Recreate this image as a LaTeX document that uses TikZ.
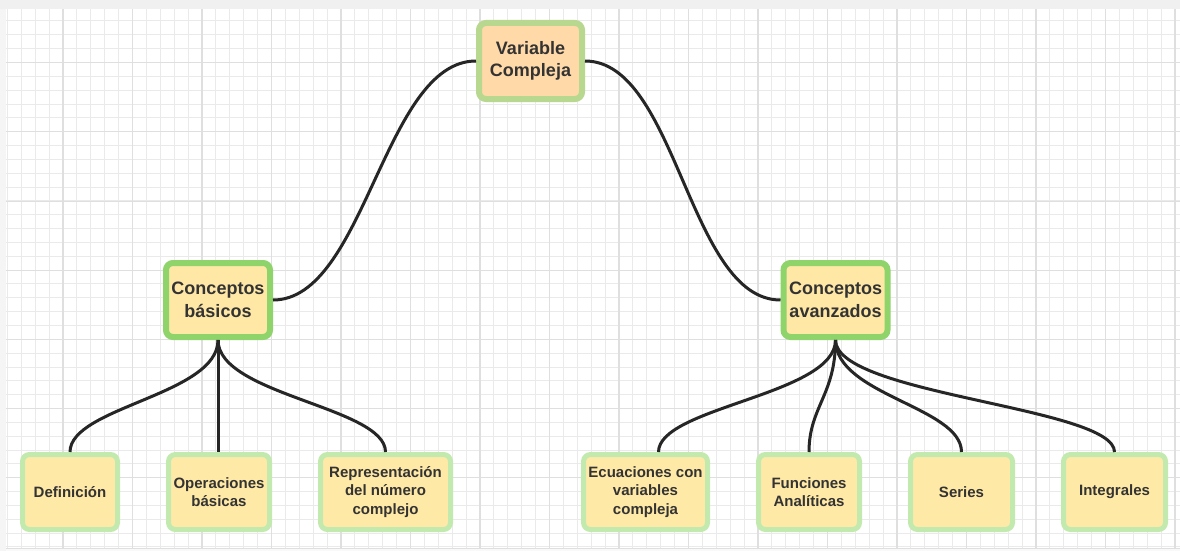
\documentclass[tikz,border=0pt]{standalone}
\usepackage{fontspec}
\setmainfont{Liberation Sans}
\usepackage{xcolor}
\usepackage{tikz}
\usetikzlibrary{positioning}

\definecolor{rootfill}{HTML}{FFD9A8}
\definecolor{rootline}{HTML}{B8D78F}
\definecolor{branchfill}{HTML}{FFE8A6}
\definecolor{branchline}{HTML}{8FD36B}
\definecolor{leaffill}{HTML}{FFE9A6}
\definecolor{leafline}{HTML}{C3EAAE}
\definecolor{ink}{HTML}{333333}
\definecolor{wire}{HTML}{262626}
\definecolor{gridminor}{HTML}{EAEAEA}
\definecolor{gridmajor}{HTML}{DFDFDF}

\begin{document}
\begin{tikzpicture}[
    x=1pt, y=-1pt,
    root/.style={rectangle, draw=rootline, fill=rootfill, line width=6pt, rounded corners=7pt, text=ink, align=center, inner sep=2pt, minimum width=103pt, minimum height=76pt, font=\bfseries\fontsize{18}{22.5}\selectfont},
    branch/.style={rectangle, draw=branchline, fill=branchfill, line width=6pt, rounded corners=7pt, text=ink, align=center, inner sep=2pt, minimum width=104pt, minimum height=74pt, font=\bfseries\fontsize{18}{23}\selectfont},
    leaf/.style={rectangle, draw=leafline, fill=leaffill, line width=5pt, rounded corners=7pt, text=ink, align=center, inner sep=2pt, minimum width=#1, minimum height=75pt, font=\bfseries\fontsize{15}{18.5}\selectfont},
    link/.style={line width=3pt, draw=wire}
]
    \useasboundingbox (0,0) rectangle (1180,551);
    % background grid
    \fill[white] (0,0) rectangle (1180,551);
    \foreach \i in {0,...,84} {
        \pgfmathsetmacro\gx{7.4+\i*13.9}
        \draw[gridminor, line width=1pt] (\gx,9) -- (\gx,548);
    }
    \foreach \i in {0,...,38} {
        \pgfmathsetmacro\gy{21+\i*13.84}
        \draw[gridminor, line width=1pt] (6,\gy) -- (1180,\gy);
    }
    \foreach \i in {0,...,16} {
        \pgfmathsetmacro\gx{63+\i*69.5}
        \draw[gridmajor, line width=1.1pt] (\gx,9) -- (\gx,548);
    }
    \foreach \i in {0,...,6} {
        \pgfmathsetmacro\gy{62.7+\i*69.2}
        \draw[gridmajor, line width=1.1pt] (6,\gy) -- (1180,\gy);
    }
    \fill[gray!12] (0,0) rectangle (1180,9);
    \fill[gray!8] (0,9) rectangle (6,551);
    \draw[gridmajor, line width=1pt] (6,548) -- (1180,548);
    \fill[gray!5] (6,549) rectangle (1180,551);

    % nodes
    \node (vc) [root] at (530.5,61) {Variable\\Compleja};
    \node (basicos) [branch] at (218,300) {Conceptos\\básicos};
    \node (avanzados) [branch] at (835.5,300) {Conceptos\\avanzados};

    \node (def) [leaf=95pt] at (70,492) {Definición};
    \node (oper) [leaf=101pt, right=46pt of def] {Operaciones\\básicas};
    \node (repr) [leaf=130pt, right=46pt of oper] {Representación\\del número\\complejo};

    \node (ecua) [leaf=124pt] at (645.5,492) {Ecuaciones con\\variables\\compleja};
    \node (func) [leaf=101pt, right=46pt of ecua] {Funciones\\Analíticas};
    \node (series) [leaf=102pt, right=46pt of func] {Series};
    \node (integ) [leaf=102pt, right=46pt of series] {Integrales};

    % connectors
    \draw [link] (vc.west) .. controls +(-92,0) and +(92,0) .. (basicos.east);
    \draw [link] (vc.east) .. controls +(92,0) and +(-92,0) .. (avanzados.west);

    \draw [link] (basicos.south) .. controls +(0,55) and +(0,-45) .. (def.north);
    \draw [link] (basicos.south) -- (basicos.south |- oper.north);
    \draw [link] (basicos.south) .. controls +(0,55) and +(0,-45) .. (repr.north);

    \draw [link] (avanzados.south) .. controls +(0,55) and +(0,-45) .. ([xshift=13pt]ecua.north);
    \draw [link] (avanzados.south) .. controls +(0,55) and +(0,-45) .. (func.north);
    \draw [link] (avanzados.south) .. controls +(0,55) and +(0,-45) .. (series.north);
    \draw [link] (avanzados.south) .. controls +(0,55) and +(0,-45) .. (integ.north);
\end{tikzpicture}
\end{document}
